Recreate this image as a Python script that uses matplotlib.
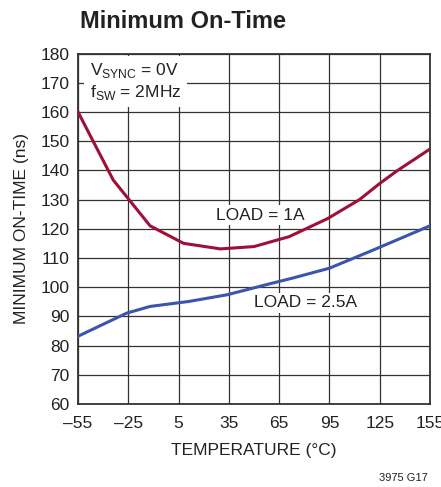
import matplotlib
matplotlib.use("Agg")
import matplotlib.pyplot as plt
from matplotlib import font_manager as fm

names = {f.name for f in fm.fontManager.ttflist}
FAM = "Liberation Sans Narrow" if "Liberation Sans Narrow" in names else "Liberation Sans"
plt.rcParams['font.family'] = [FAM, 'DejaVu Sans']

temp_1a = [-55, -34, -12, 8, 30, 50, 71, 94, 113, 125, 135, 155]
ontime_1a = [160, 136.7, 121, 115, 113.1, 113.9, 117.3, 123.5, 130, 135.5, 139.7, 147.3]
temp_25a = [-55, -26, -12, 11, 34, 57, 73, 95, 119, 155]
ontime_25a = [83.2, 91.1, 93.4, 95.1, 97.4, 100.8, 103.1, 106.5, 112.2, 121]
xticks = [-55, -25, 5, 35, 65, 95, 125, 155]
xtick_labels = ["\u201355", "\u201325", "5", "35", "65", "95", "125", "155"]
yticks = list(range(60, 181, 10))

fig = plt.figure(figsize=(4.41, 4.87), dpi=100)
ax = fig.add_axes([78/441, 1 - 404/487, (430-78)/441, (404-53.5)/487])
ax.set_xlim(-55, 155)
ax.set_ylim(60, 180)
ax.set_xticks(xticks)
ax.set_xticklabels(xtick_labels)
ax.set_yticks(yticks)
ax.grid(True, color='#333333', linewidth=0.9)
ax.set_axisbelow(True)
for s in ax.spines.values():
    s.set_color('#333333')
    s.set_linewidth(1.3)
ax.tick_params(axis='both', length=0, labelsize=12.5, colors='#222222')
ax.tick_params(axis='x', pad=9)
ax.tick_params(axis='y', pad=6)

ax.plot(temp_1a, ontime_1a, color='#9e1038', linewidth=2.2, solid_joinstyle='round', zorder=3)
ax.plot(temp_25a, ontime_25a, color='#3b55ae', linewidth=2.2, solid_joinstyle='round', zorder=3)

bbox = dict(facecolor='white', edgecolor='none', pad=1.5)
ax.text(-48, 170.4, "V$_\\mathregular{SYNC}$ = 0V\nf$_\\mathregular{SW}$ = 2MHz", fontsize=12.5,
        ha='left', va='center', color='#222222', linespacing=1.15,
        bbox=dict(facecolor='white', edgecolor='none', pad=4), zorder=4)
ax.text(53.5, 124.7, "LOAD = 1A", fontsize=12.5, ha='center', va='center', color='#222222', bbox=bbox, zorder=2)
ax.text(81, 94.6, "LOAD = 2.5A", fontsize=12.5, ha='center', va='center', color='#222222', bbox=bbox, zorder=2)

ax.set_xlabel("TEMPERATURE (\u00b0C)", fontsize=12.5, color='#222222', labelpad=8)
ax.set_ylabel("MINIMUM ON-TIME (ns)", fontsize=12.5, color='#222222', labelpad=8)

fig.text(80/441, 1 - 22/487, "Minimum On-Time", fontsize=17, fontweight='bold', ha='left', va='center', color='#222222')
fig.text(428/441, 1 - 478/487, "3975 G17", fontsize=8, ha='right', va='center', color='#222222')

fig.savefig("out.png", dpi=100, facecolor='white')
